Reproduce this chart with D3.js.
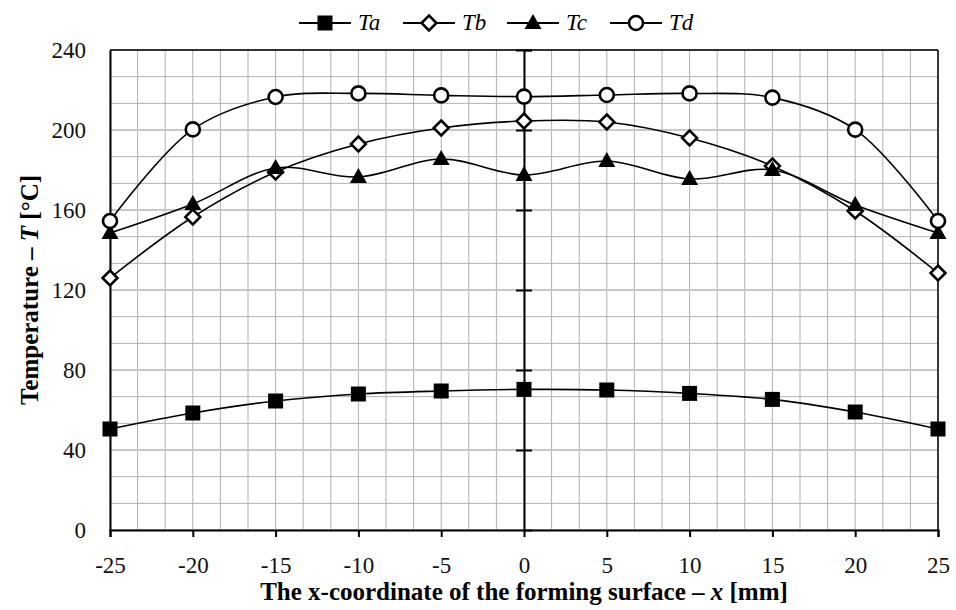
<!DOCTYPE html>
<html>
<head>
<meta charset="utf-8">
<script src="https://cdn.jsdelivr.net/npm/d3@7"></script>
<style>
body { margin: 0; background: #fff; }
svg text { font-family: "Liberation Serif", serif; }
</style>
</head>
<body>
<div id="chart"></div>
<script>
// data
var xValues = [-25, -20, -15, -10, -5, 0, 5, 10, 15, 20, 25];
var ta = [50.5, 58.5, 64.5, 68, 69.5, 70.3, 70, 68.3, 65.3, 59, 50.5];
var tb = [126, 156.5, 179, 193, 201, 204.5, 204, 196, 182, 159.5, 128.5];
var tc = [148.5, 163, 181, 176.5, 185.5, 177.5, 184.5, 175.5, 180, 162.5, 148.5];
var td = [154.5, 200.3, 216.5, 218.3, 217.3, 216.7, 217.5, 218.3, 216.2, 200.2, 154.5];
var seriesNames = ['Ta', 'Tb', 'Tc', 'Td'];
var xTicks = [-25, -20, -15, -10, -5, 0, 5, 10, 15, 20, 25];
var yTicks = [0, 40, 80, 120, 160, 200, 240];

var fullWidth = 956, fullHeight = 610;
var margin = {top: 50, right: 18, bottom: 80, left: 110};
var width = fullWidth - margin.left - margin.right;
var height = fullHeight - margin.top - margin.bottom;

var svg = d3.select('#chart').append('svg')
  .attr('width', fullWidth)
  .attr('height', fullHeight);

var g = svg.append('g')
  .attr('transform', 'translate(' + margin.left + ',' + margin.top + ')');

var xScale = d3.scaleLinear().domain([-25, 25]).range([0, width]);
var yScale = d3.scaleLinear().domain([0, 240]).range([height, 0]);

// grid: 3 subdivisions between labelled ticks
var xGrid = d3.range(-25, 25.001, 5 / 3);
var yGrid = d3.range(0, 240.001, 40 / 3);

g.append('g').selectAll('line')
  .data(xGrid)
  .enter().append('line')
    .attr('x1', function(d) { return xScale(d); })
    .attr('x2', function(d) { return xScale(d); })
    .attr('y1', 0)
    .attr('y2', height)
    .attr('stroke', '#b0b0b0')
    .attr('stroke-width', 1);

g.append('g').selectAll('line')
  .data(yGrid)
  .enter().append('line')
    .attr('x1', 0)
    .attr('x2', width)
    .attr('y1', function(d) { return yScale(d); })
    .attr('y2', function(d) { return yScale(d); })
    .attr('stroke', function(d, i) { return i % 3 == 0 ? '#c8c8c8' : '#b0b0b0'; })
    .attr('stroke-width', function(d, i) { return i % 3 == 0 ? 2 : 1; });

// frame top and right
g.append('line').attr('x1', 0).attr('x2', width).attr('y1', 0).attr('y2', 0)
  .attr('stroke', '#000').attr('stroke-width', 1.5);
g.append('line').attr('x1', width).attr('x2', width).attr('y1', 0).attr('y2', height)
  .attr('stroke', '#000').attr('stroke-width', 1.5);

// y axis on left
var yAxis = d3.axisLeft(yScale).tickValues(yTicks).tickSize(0).tickPadding(24);
var yAxisEle = g.append('g').call(yAxis);
yAxisEle.attr('font-family', null);
yAxisEle.select('.domain').attr('stroke-width', 2);
yAxisEle.selectAll('text')
  .style('font-size', '23px')
  .attr('fill', '#111');

// x axis on bottom
var xAxis = d3.axisBottom(xScale).tickValues(xTicks).tickSize(7).tickPadding(20)
  .tickFormat(function(d) { return String(d); });
var xAxisEle = g.append('g')
  .attr('transform', 'translate(0,' + height + ')')
  .call(xAxis);
xAxisEle.attr('font-family', null);
xAxisEle.select('.domain').attr('stroke-width', 2);
xAxisEle.selectAll('line').attr('stroke-width', 2);
xAxisEle.selectAll('text')
  .style('font-size', '23px')
  .attr('fill', '#111');

// centre axis at x = 0
var midAxis = d3.axisRight(yScale).tickValues(yTicks.slice(1)).tickSize(8).tickFormat('');
var midEle = g.append('g')
  .attr('transform', 'translate(' + xScale(0) + ',0)')
  .call(midAxis);
midEle.select('.domain').attr('stroke-width', 2);
midEle.selectAll('.tick line').attr('x1', -8).attr('stroke-width', 2);

// series
var series = [
  {name: 'Ta', values: ta, shape: 'square'},
  {name: 'Tb', values: tb, shape: 'diamond'},
  {name: 'Tc', values: tc, shape: 'triangle'},
  {name: 'Td', values: td, shape: 'circle'}
];

var line = d3.line()
  .x(function(d) { return xScale(d[0]); })
  .y(function(d) { return yScale(d[1]); })
  .curve(d3.curveCatmullRom.alpha(0.5));

function drawMarker(sel, shape) {
  if (shape == 'square') {
    sel.append('rect').attr('x', -7.5).attr('y', -7.5).attr('width', 15).attr('height', 15)
      .attr('fill', '#000');
  } else if (shape == 'diamond') {
    sel.append('path').attr('d', 'M0,-7.5L7.5,0L0,7.5L-7.5,0Z')
      .attr('fill', '#fff').attr('stroke', '#000').attr('stroke-width', 2.5);
  } else if (shape == 'triangle') {
    sel.append('path').attr('d', 'M0,-9L8.5,6L-8.5,6Z')
      .attr('fill', '#000');
  } else {
    sel.append('circle').attr('r', 7)
      .attr('fill', '#fff').attr('stroke', '#000').attr('stroke-width', 2.6);
  }
}

var lineHolder = g.append('g');
series.forEach(function(s) {
  var pts = xValues.map(function(x, i) { return [x, s.values[i]]; });
  lineHolder.append('path')
    .datum(pts)
    .attr('d', line)
    .attr('fill', 'none')
    .attr('stroke', '#000')
    .attr('stroke-width', 1.6);
});

series.forEach(function(s) {
  var pts = xValues.map(function(x, i) { return [x, s.values[i]]; });
  g.append('g').selectAll('g')
    .data(pts)
    .enter().append('g')
      .attr('transform', function(d) {
        return 'translate(' + xScale(d[0]) + ',' + yScale(d[1]) + ')';
      })
      .each(function() { drawMarker(d3.select(this), s.shape); });
});

// legend
var legendX = [299, 403, 507, 610];
var legend = svg.append('g');
series.forEach(function(s, i) {
  var item = legend.append('g').attr('transform', 'translate(' + legendX[i] + ',23)');
  item.append('line').attr('x1', 0).attr('x2', 52).attr('y1', 0).attr('y2', 0)
    .attr('stroke', '#000').attr('stroke-width', 2);
  drawMarker(item.append('g').attr('transform', 'translate(26,0)'), s.shape);
  item.append('text')
    .attr('x', 59)
    .attr('y', 7)
    .style('font-size', '23px')
    .style('font-style', 'italic')
    .text(s.name);
});

// axis titles
var xTitle = svg.append('text')
  .attr('x', margin.left + xScale(0))
  .attr('y', 600)
  .attr('text-anchor', 'middle')
  .style('font-size', '25px')
  .style('font-weight', 'bold');
xTitle.append('tspan').text('The x-coordinate of the forming surface \u2013 ');
xTitle.append('tspan').style('font-style', 'italic').text('x');
xTitle.append('tspan').text(' [mm]');

var yTitle = svg.append('text')
  .attr('transform', 'translate(38,' + (margin.top + height / 2) + ')rotate(-90)')
  .attr('text-anchor', 'middle')
  .style('font-size', '25px')
  .style('font-weight', 'bold');
yTitle.append('tspan').text('Temperature \u2013 ');
yTitle.append('tspan').style('font-style', 'italic').text('T');
yTitle.append('tspan').text(' [\u00B0C]');
</script>
</body>
</html>
